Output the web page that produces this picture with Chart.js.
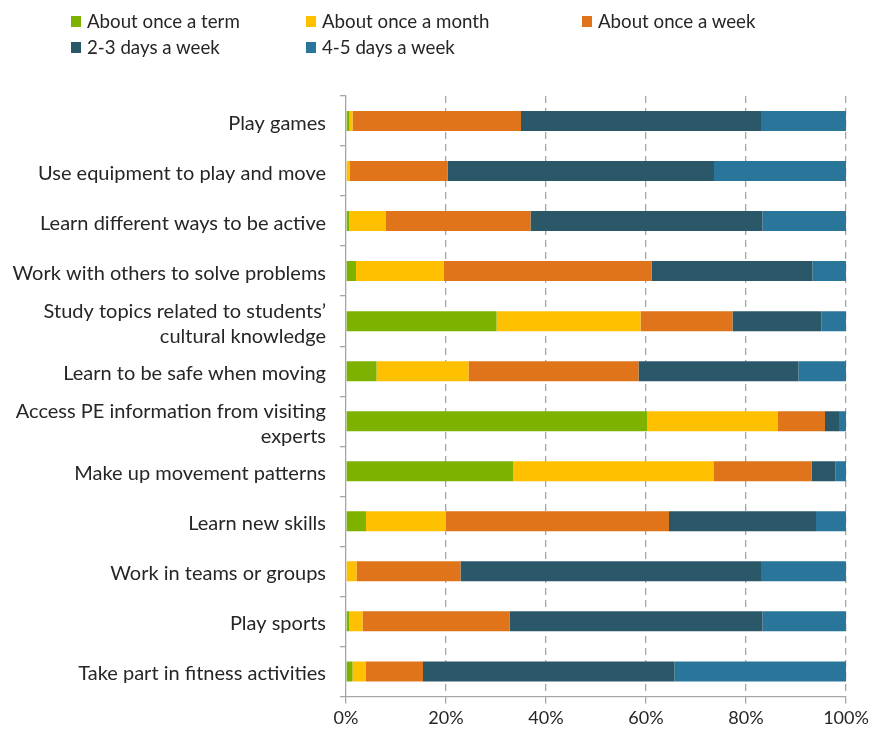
<!DOCTYPE html>
<html>
<head>
<meta charset="utf-8">
<script src="https://cdn.jsdelivr.net/npm/chart.js@4/dist/chart.umd.min.js"></script>
<style>
  html, body { margin: 0; padding: 0; background: #fff; }
  #wrap { position: relative; width: 875px; height: 738px; }
  #legend { position: absolute; left: 0; top: 0; width: 875px; height: 70px;
            font-family: Lato, "Open Sans", sans-serif; font-size: 18.7px; color: #262626; }
  .item { position: absolute; display: flex; align-items: center; white-space: nowrap; }
  .box { width: 10px; height: 11px; margin-right: 6px; }
  canvas { position: absolute; left: 0; top: 0; }
</style>
</head>
<body>
<div id="wrap">
  <canvas id="c" width="875" height="738"></canvas>
  <div id="legend"></div>
</div>
<script>
// Activities (bottom label last)
const activities = [
  "Play games",
  "Use equipment to play and move",
  "Learn different ways to be active",
  "Work with others to solve problems",
  ["Study topics related to students\u2019", "cultural knowledge"],
  "Learn to be safe when moving",
  ["Access PE information from visiting", "experts"],
  "Make up movement patterns",
  "Learn new skills",
  "Work in teams or groups",
  "Play sports",
  "Take part in fitness activities"
];

// Frequency shares (%) for each activity, in the order above
const onceTerm  = [0.7, 0.0, 0.6, 2.0, 30.1, 6.1, 60.2, 33.4, 4.0, 0.0, 0.6, 1.3];
const onceMonth = [0.6, 0.7, 7.4, 17.5, 28.8, 18.4, 26.1, 40.2, 16.0, 2.1, 2.7, 2.7];
const onceWeek  = [33.7, 19.6, 28.9, 41.6, 18.4, 34.0, 9.5, 19.5, 44.6, 20.8, 29.4, 11.4];
const days23    = [48.0, 53.3, 46.4, 32.2, 17.8, 32.0, 2.8, 4.8, 29.4, 60.1, 50.6, 50.3];
const days45    = [17.0, 26.4, 16.7, 6.7, 4.9, 9.5, 1.4, 2.1, 6.0, 17.0, 16.7, 34.3];

const seriesNames = ["About once a term", "About once a month", "About once a week",
                     "2-3 days a week", "4-5 days a week"];
const seriesColors = ["#7db200", "#ffc000", "#e0741a", "#2a5868", "#2a769b"];
const seriesValues = [onceTerm, onceMonth, onceWeek, days23, days45];

const tickValues = [0, 20, 40, 60, 80, 100];

const FONT = "Lato, 'Open Sans', sans-serif";
const TEXT = "#262626";

const datasets = seriesNames.map((name, i) => ({
  label: name,
  data: seriesValues[i],
  backgroundColor: seriesColors[i],
  borderWidth: 0,
  barPercentage: 0.4,
  categoryPercentage: 1.0
}));

// Two-row legend laid out in columns
const legendPos = [[71, 22], [306, 22], [582, 22], [71, 48], [306, 48]];
const legendEl = document.getElementById("legend");
seriesNames.forEach((name, i) => {
  const it = document.createElement("div");
  it.className = "item";
  it.style.left = legendPos[i][0] + "px";
  it.style.top = (legendPos[i][1] - 12) + "px";
  const b = document.createElement("span");
  b.className = "box";
  b.style.background = seriesColors[i];
  const t = document.createElement("span");
  t.textContent = name;
  it.appendChild(b); it.appendChild(t);
  legendEl.appendChild(it);
});

new Chart(document.getElementById("c"), {
  type: "bar",
  data: { labels: activities, datasets },
  options: {
    indexAxis: "y",
    responsive: false,
    animation: false,
    layout: { padding: { top: 96, right: 29, bottom: 5, left: 0 } },
    plugins: { legend: { display: false }, tooltip: { enabled: false } },
    scales: {
      x: {
        stacked: true,
        min: 0,
        max: 100,
        afterBuildTicks: (s) => { s.ticks = tickValues.map(v => ({ value: v })); },
        afterFit: (s) => { s.paddingLeft = 0; s.paddingRight = 0; },
        ticks: {
          callback: (v) => v + "%",
          font: { family: FONT, size: 18 },
          color: TEXT,
          padding: 4,
          maxRotation: 0
        },
        grid: {
          color: (ctx) => ctx.tick && ctx.tick.value === 0 ? "rgba(0,0,0,0)" : "#a6a6a6",
          lineWidth: 1.3,
          tickLength: 7,
          tickColor: "#a6a6a6",
          drawTicks: true
        },
        border: { display: true, color: "#a6a6a6", width: 1.3, dash: [7, 5] }
      },
      y: {
        stacked: true,
        afterFit: (s) => { s.width = 346; s.paddingTop = 0; s.paddingBottom = 0; },
        ticks: {
          font: { family: FONT, size: 20, lineHeight: 1.25 },
          color: TEXT,
          padding: 14,
          labelOffset: 2.5,
          autoSkip: false
        },
        grid: {
          offset: true,
          drawOnChartArea: false,
          drawTicks: true,
          tickLength: 6,
          color: "#a6a6a6",
          lineWidth: 1.3
        },
        border: { display: true, color: "#a6a6a6", width: 1.3 }
      }
    }
  }
});
</script>
</body>
</html>
